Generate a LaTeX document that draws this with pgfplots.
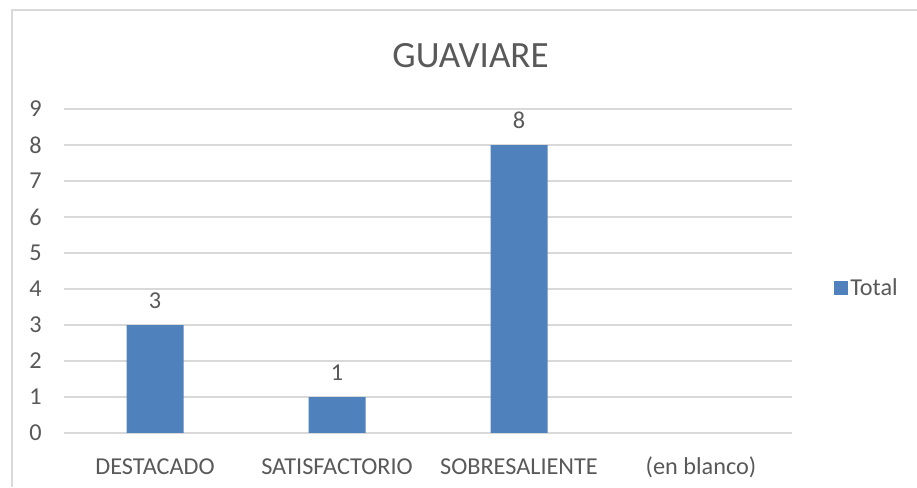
\documentclass[border=0pt]{standalone}
\usepackage{fontspec}
\setmainfont{Carlito}
\usepackage{pgfplots}
\pgfplotsset{compat=1.18}

\definecolor{barblue}{HTML}{4F81BD}
\definecolor{txtgray}{HTML}{595959}
\definecolor{gridgray}{HTML}{D9D9D9}

\begin{document}
\begin{tikzpicture}
  % canvas 917x487 px at 0.75pt per px
  \useasboundingbox (0pt,0pt) rectangle (687.75pt,-365.25pt);
  \fill[white] (0pt,0pt) rectangle (687.75pt,-365.25pt);
  \draw[gridgray, line width=0.9pt] (9pt,-365.25pt) -- (9pt,-7.5pt) -- (687.75pt,-7.5pt);

  \node[text=txtgray, font=\fontsize{27.8}{32}\selectfont] at (352.9pt,-41.5pt) {GUAVIARE};

  \begin{axis}[
      at={(48pt,-81.75pt)}, anchor=north west,
      scale only axis,
      width=546pt, height=243pt,
      ybar, bar width=42.75pt,
      xmin=-0.5, xmax=3.5,
      ymin=0, ymax=9,
      xtick={0,1,2,3},
      xticklabels={DESTACADO, SATISFACTORIO, SOBRESALIENTE, (en blanco)},
      ytick={0,1,...,9},
      axis line style={draw=none},
      major tick length=0pt,
      ymajorgrids=true,
      grid style={gridgray, line width=0.9pt},
      /pgf/number format/assume math mode=true,
      tick label style={font=\fontsize{18.2}{21}\selectfont, text=txtgray},
      yticklabel style={anchor=east, inner sep=0pt, xshift=-16.5pt},
      xticklabel style={anchor=base, inner sep=0pt, yshift=-30.75pt},
      nodes near coords,
      every node near coord/.append style={font=\fontsize{18.2}{21}\selectfont, text=txtgray, anchor=base, inner sep=0pt, yshift=12.5pt},
      legend style={draw=none, fill=none, at={(1.0577,0.4475)}, anchor=west,
                    inner xsep=0pt, inner ysep=0pt,
                    font=\fontsize{18.2}{21}\selectfont, text=txtgray},
      legend image code/.code={\fill[barblue] (0pt,-5pt) rectangle (10pt,5pt);},
    ]
    \addplot[fill=barblue, draw=none] coordinates {
      (0,3)
      (1,1)
      (2,8)
    };
    \addlegendentry{Total}
  \end{axis}
\end{tikzpicture}
\end{document}
